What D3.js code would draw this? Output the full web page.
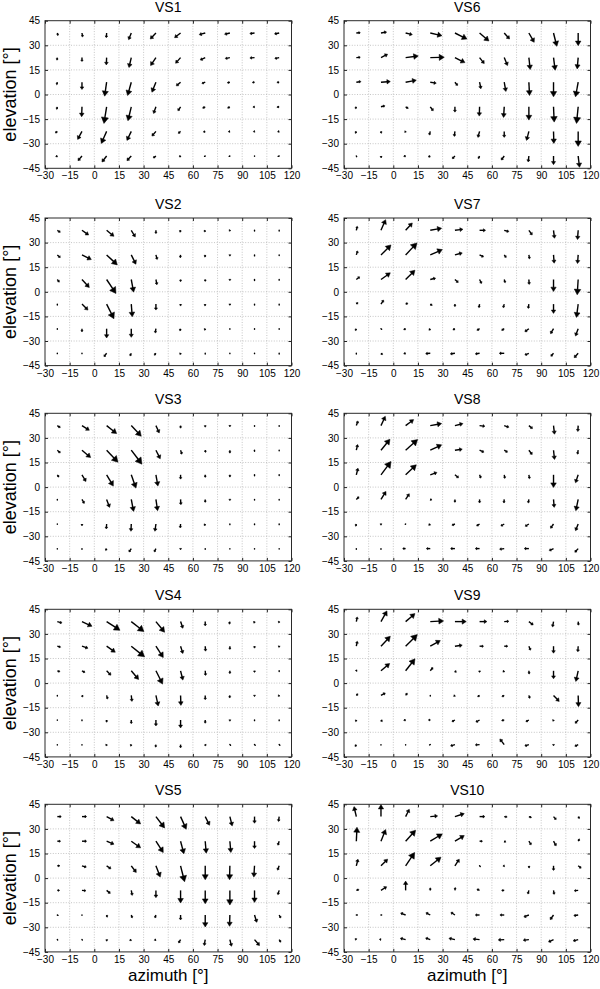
<!DOCTYPE html>
<html><head><meta charset="utf-8">
<script src="https://cdn.jsdelivr.net/npm/d3@7"></script>
<style>
body{margin:0;background:#fff}
svg{display:block}
text{font-family:"Liberation Sans",Arial,Helvetica,sans-serif;fill:#000}
</style>
</head><body>
<svg id="chart" width="600" height="989"></svg>
<script>
// ---- data ----
const azimuths = [-22.5, -7.5, 7.5, 22.5, 37.5, 52.5, 67.5, 82.5, 97.5, 112.5];
const elevations = [37.5, 22.5, 7.5, -7.5, -22.5, -37.5];
const xTicks = [-30, -15, 0, 15, 30, 45, 60, 75, 90, 105, 120];
const yTicks = [45, 30, 15, 0, -15, -30, -45];
const panelNames = ["VS1","VS2","VS3","VS4","VS5","VS6","VS7","VS8","VS9","VS10"];
const xLabel = "azimuth [°]";
const yLabel = "elevation [°]";
const quiverScale = 0.203; // degrees per vector unit (autoscale)

// rows = elevations (top to bottom), columns = azimuths
const vs1U = [[2,2,-1,-8,-17,-18,-18,-16,-14,-14],[-1,0,-1,-7,-16,-15,-15,-14,-14,-13],[-2,0,-6,-11,-12,-13,-10,-8,-7,-7],[-2,-1,-8,-10,-7,-8,-8,-7,-5,-7],[-6,-13,-16,-13,-12,-7,-6,-5,-4,-5],[-5,-12,-14,-13,-8,-4,-2,-2,0,-3]];
const vs1V = [[-8,-12,-14,-20,-18,-14,-5,-4,-2,-3],[-8,-12,-22,-30,-24,-17,-7,-3,-1,-3],[-8,-22,-42,-40,-30,-11,-4,-2,-1,-1],[-8,-30,-50,-42,-20,-12,-4,-4,-1,-1],[-5,-24,-36,-27,-14,-6,-2,-1,-1,-1],[-2,-14,-18,-14,-6,-3,-1,-1,-1,-1]];
const vs2U = [[9,20,22,12,0,-2,-3,-2,0,0],[9,28,32,14,4,-1,-1,0,0,0],[6,22,28,7,3,0,0,0,0,0],[0,18,22,3,0,0,-1,0,0,0],[0,0,0,0,-2,-2,-2,0,0,0],[0,0,-8,-4,-5,-2,0,0,0,0]];
const vs2V = [[-6,-14,-18,-20,-10,-6,-5,-3,-2,-2],[-8,-14,-30,-28,-14,-9,-7,-4,-3,-2],[-8,-24,-42,-38,-16,-7,-6,-4,-3,-2],[-3,-18,-44,-38,-18,-6,-6,-4,-3,-3],[-2,-10,-28,-26,-13,-7,-5,-2,-2,-2],[-1,-1,-10,-8,-6,-4,-2,-1,-1,-2]];
const vs3U = [[9,22,30,30,10,0,0,0,0,0],[9,26,34,32,13,4,1,0,0,0],[5,12,20,14,6,0,0,0,0,0],[0,7,9,7,5,1,0,0,0,0],[0,0,-1,-1,-3,-1,-3,0,0,0],[0,0,-3,-7,-5,0,0,0,0,0]];
const vs3V = [[-6,-14,-24,-32,-22,-8,-5,-4,-2,-2],[-8,-22,-36,-42,-26,-12,-7,-9,-3,-2],[-7,-20,-34,-40,-34,-13,-8,-7,-3,-2],[-2,-12,-24,-36,-34,-16,-9,-4,-2,-2],[-1,-6,-15,-22,-22,-12,-5,-2,-2,-2],[-1,-2,-6,-10,-10,-4,-2,-1,-1,-1]];
const vs4U = [[14,30,40,38,26,7,0,-2,-2,-2],[10,18,26,40,22,7,1,0,0,-1],[8,9,13,22,20,7,1,0,0,0],[0,3,3,2,7,1,0,-1,0,-3],[0,0,0,0,0,0,0,0,0,0],[0,0,-2,-2,-1,0,2,2,2,2]];
const vs4V = [[-4,-14,-26,-30,-32,-20,-13,-8,-5,-4],[-3,-6,-18,-32,-34,-22,-15,-10,-6,-4],[-3,-5,-13,-26,-40,-28,-14,-9,-5,-2],[-2,-5,-11,-18,-32,-30,-13,-8,-4,-3],[-1,-2,-7,-11,-18,-24,-10,-4,-2,-2],[-1,-1,-4,-5,-8,-10,-4,-2,-2,-2]];
const vs5U = [[12,14,22,28,26,17,13,7,0,-2],[10,14,22,28,22,10,3,3,0,-4],[8,13,13,15,13,12,0,-1,-2,-5],[7,12,11,3,0,0,0,0,0,-4],[2,0,2,3,-3,0,0,-1,7,5],[1,1,1,-5,-5,-6,-3,5,15,5]];
const vs5V = [[0,0,-12,-22,-34,-38,-26,-28,-20,-15],[0,0,-9,-20,-34,-38,-36,-34,-22,-12],[0,-4,-9,-20,-34,-48,-42,-42,-34,-13],[0,-1,-9,-15,-22,-38,-40,-44,-36,-13],[-1,-1,-7,-9,-9,-15,-36,-34,-22,-9],[-1,-1,-5,-3,-2,-10,-18,-20,-18,-8]];
const vs6U = [[12,17,20,35,36,28,16,16,10,0],[12,20,38,42,30,14,10,4,5,-3],[14,28,32,18,8,4,5,2,0,-8],[-3,12,8,9,0,-1,-2,0,2,-5],[-3,1,-3,-3,-2,-5,0,-7,1,0],[1,1,-6,-6,-8,-4,-9,-2,0,4]];
const vs6V = [[1,3,-5,-8,-18,-24,-18,-28,-40,-38],[1,10,5,1,-15,-18,-24,-36,-38,-34],[2,2,6,-3,-10,-20,-28,-40,-44,-44],[-6,3,-5,-12,-16,-28,-32,-40,-46,-50],[-6,-6,-3,-11,-15,-18,-18,-27,-36,-45],[-2,-6,-1,-3,-8,-8,-12,-18,-26,-34]];
const vs7U = [[3,14,20,34,24,18,14,10,3,-2],[4,30,34,36,22,12,6,2,2,-2],[10,28,28,16,10,6,3,1,0,-3],[5,8,7,6,0,-2,-3,-2,0,-5],[-3,2,-6,-4,-6,-8,-8,-12,-9,-8],[0,5,-6,-14,-14,-13,-15,-12,-8,-12]];
const vs7V = [[12,32,22,6,3,0,-4,-14,-24,-28],[12,30,36,16,6,-6,-8,-12,-25,-26],[8,20,28,4,-9,-12,-10,-15,-36,-46],[5,12,3,-4,-8,-11,-11,-13,-28,-40],[-6,-2,-3,-5,-4,-5,-5,-9,-15,-22],[-2,-4,-1,-1,-2,-2,0,-5,-9,-13]];
const vs8U = [[5,13,24,34,24,16,14,11,3,-1],[4,27,36,34,22,13,10,10,3,-2],[5,30,32,20,11,4,2,2,0,-8],[8,15,11,5,0,0,-1,-2,2,-7],[-2,0,-1,-5,-9,-9,-10,-11,-9,-8],[0,0,-9,-12,-13,-13,-14,-14,-13,-10]];
const vs8V = [[14,28,18,6,6,-2,-5,-9,-26,-18],[17,33,32,16,3,-6,-6,-13,-28,-12],[20,40,30,7,-9,-10,-11,-12,-38,-24],[8,24,17,-2,-9,-11,-11,-11,-24,-34],[-7,-4,-1,-4,-4,-6,-6,-7,-13,-20],[-2,-2,0,0,0,0,-2,0,-6,-11]];
const vs9U = [[3,18,28,40,34,22,14,13,-3,1],[3,28,35,30,22,12,11,5,0,-1],[2,26,28,8,4,0,-4,1,0,-7],[5,13,5,0,-4,-6,-7,3,17,1],[-2,4,-6,-6,-9,-11,-8,-9,-2,-9],[-4,0,0,-2,-13,-13,-13,-12,0,-10]];
const vs9V = [[14,32,24,2,0,0,1,-10,-16,-11],[15,30,35,17,3,0,0,-12,-21,-17],[3,22,36,10,-5,-5,-4,-10,-24,-32],[5,7,7,-2,-3,-4,-4,-9,-18,-34],[-5,-5,-1,0,-5,-6,-2,-5,-4,-10],[-6,-1,-1,-1,-4,-1,17,-4,-4,-5]];
const vs10U = [[-7,0,11,22,28,16,9,8,8,4],[2,14,30,36,28,9,5,7,8,4],[5,20,27,32,13,2,-4,1,0,9],[8,17,0,0,1,-8,-8,-3,2,-12],[3,2,-15,-13,-12,-13,-13,-15,-10,-13],[-4,-5,-16,-14,-18,-20,-18,-17,-15,-15]];
const vs10V = [[30,36,22,2,9,0,-1,-3,-9,-6],[42,35,33,22,17,0,-3,-11,-14,7],[20,20,40,26,20,-2,-1,-7,-14,-7],[3,11,28,8,9,4,0,-11,-12,-1],[0,0,6,7,8,0,0,-6,-14,-2],[3,1,4,5,4,2,-1,-2,-7,-4]];

const panelU = [vs1U,vs2U,vs3U,vs4U,vs5U,vs6U,vs7U,vs8U,vs9U,vs10U];
const panelV = [vs1V,vs2V,vs3V,vs4V,vs5V,vs6V,vs7V,vs8V,vs9V,vs10V];

// ---- layout ----
const svg = d3.select("#chart");
const colX = [45, 344];
const rowY = [20.7, 218, 413.3, 609.3, 804.3];
const pw = 246.5, ph = 147.6;
const FONT = "Liberation Sans, Arial, sans-serif";

panelNames.forEach((name, i) => {
  const col = i < 5 ? 0 : 1, row = i % 5;
  const g = svg.append("g").attr("transform", `translate(${colX[col]},${rowY[row]})`);
  const x = d3.scaleLinear().domain([-30, 120]).range([0, pw]);
  const y = d3.scaleLinear().domain([-45, 45]).range([ph, 0]);

  // grid
  g.append("g").selectAll("line").data(xTicks.slice(1, -1)).join("line")
    .attr("x1", d => x(d)).attr("x2", d => x(d)).attr("y1", 0).attr("y2", ph)
    .attr("stroke", "#b8b8b8").attr("stroke-width", 0.8).attr("stroke-dasharray", "1,1.6");
  g.append("g").selectAll("line").data(yTicks.slice(1, -1)).join("line")
    .attr("y1", d => y(d)).attr("y2", d => y(d)).attr("x1", 0).attr("x2", pw)
    .attr("stroke", "#b8b8b8").attr("stroke-width", 0.8).attr("stroke-dasharray", "1,1.6");

  // axes (inward ticks on all sides)
  const tl = 3;
  g.append("g").attr("transform", `translate(0,${ph})`)
    .call(d3.axisBottom(x).tickValues(xTicks).tickSize(-tl).tickPadding(4).tickFormat(d3.format("d")))
    .call(a => { a.select(".domain").remove(); a.selectAll("line").attr("stroke", "#222"); a.selectAll("text").attr("font-size", 10).attr("font-family", FONT); });
  g.append("g")
    .call(d3.axisTop(x).tickValues(xTicks).tickSize(-tl).tickFormat(""))
    .call(a => { a.select(".domain").remove(); a.selectAll("line").attr("stroke", "#222"); });
  g.append("g")
    .call(d3.axisLeft(y).tickValues(yTicks).tickSize(-tl).tickPadding(5).tickFormat(d3.format("d")))
    .call(a => { a.select(".domain").remove(); a.selectAll("line").attr("stroke", "#222"); a.selectAll("text").attr("font-size", 10).attr("font-family", FONT); });
  g.append("g").attr("transform", `translate(${pw},0)`)
    .call(d3.axisRight(y).tickValues(yTicks).tickSize(-tl).tickFormat(""))
    .call(a => { a.select(".domain").remove(); a.selectAll("line").attr("stroke", "#222"); });

  g.append("rect").attr("x", 0).attr("y", 0).attr("width", pw).attr("height", ph)
    .attr("fill", "none").attr("stroke", "#2a2a2a").attr("stroke-width", 1);

  // title
  g.append("text").attr("x", pw / 2).attr("y", -9).attr("text-anchor", "middle")
    .attr("font-size", 14).text(name);

  // quiver arrows
  const vecs = [];
  elevations.forEach((el, r) => azimuths.forEach((az, c) => {
    vecs.push({az, el, u: panelU[i][r][c], v: panelV[i][r][c]});
  }));
  const ag = g.append("g");
  vecs.forEach(d => {
    const x0 = x(d.az), y0 = y(d.el);
    const x1 = x(d.az + d.u * quiverScale), y1 = y(d.el + d.v * quiverScale);
    const dx = x1 - x0, dy = y1 - y0;
    const L = Math.hypot(dx, dy);
    if (L < 1.2) {
      ag.append("line").attr("x1", x0).attr("y1", y0).attr("x2", x0 + dx).attr("y2", y0 + dy + (L < 0.3 ? 0.3 : 0))
        .attr("stroke", "#000").attr("stroke-width", 1.4).attr("stroke-linecap", "round");
      return;
    }
    const ux = dx / L, uy = dy / L;
    const hl = Math.max(1.5, 0.36 * L), hw = Math.max(1.0, 0.18 * L + 0.5);
    const bx = x1 - ux * hl, by = y1 - uy * hl;
    ag.append("line").attr("x1", x0).attr("y1", y0).attr("x2", bx + ux * 0.5).attr("y2", by + uy * 0.5)
      .attr("stroke", "#000").attr("stroke-width", 1.4).attr("stroke-linecap", "butt");
    ag.append("path")
      .attr("d", `M${x1},${y1}L${bx - uy * hw},${by + ux * hw}L${bx + uy * hw},${by - ux * hw}Z`)
      .attr("fill", "#000").attr("stroke", "#000").attr("stroke-width", 0.5).attr("stroke-linejoin", "miter");
  });

  // axis labels
  if (col === 0) {
    g.append("text").attr("transform", `translate(${16 - colX[0]},${ph / 2}) rotate(-90)`)
      .attr("text-anchor", "middle").attr("font-size", 18).text(yLabel);
  }
  if (row === 4) {
    g.append("text").attr("x", pw / 2).attr("y", 981 - rowY[4]).attr("text-anchor", "middle")
      .attr("font-size", 17).text(xLabel);
  }
});
</script>
</body></html>
